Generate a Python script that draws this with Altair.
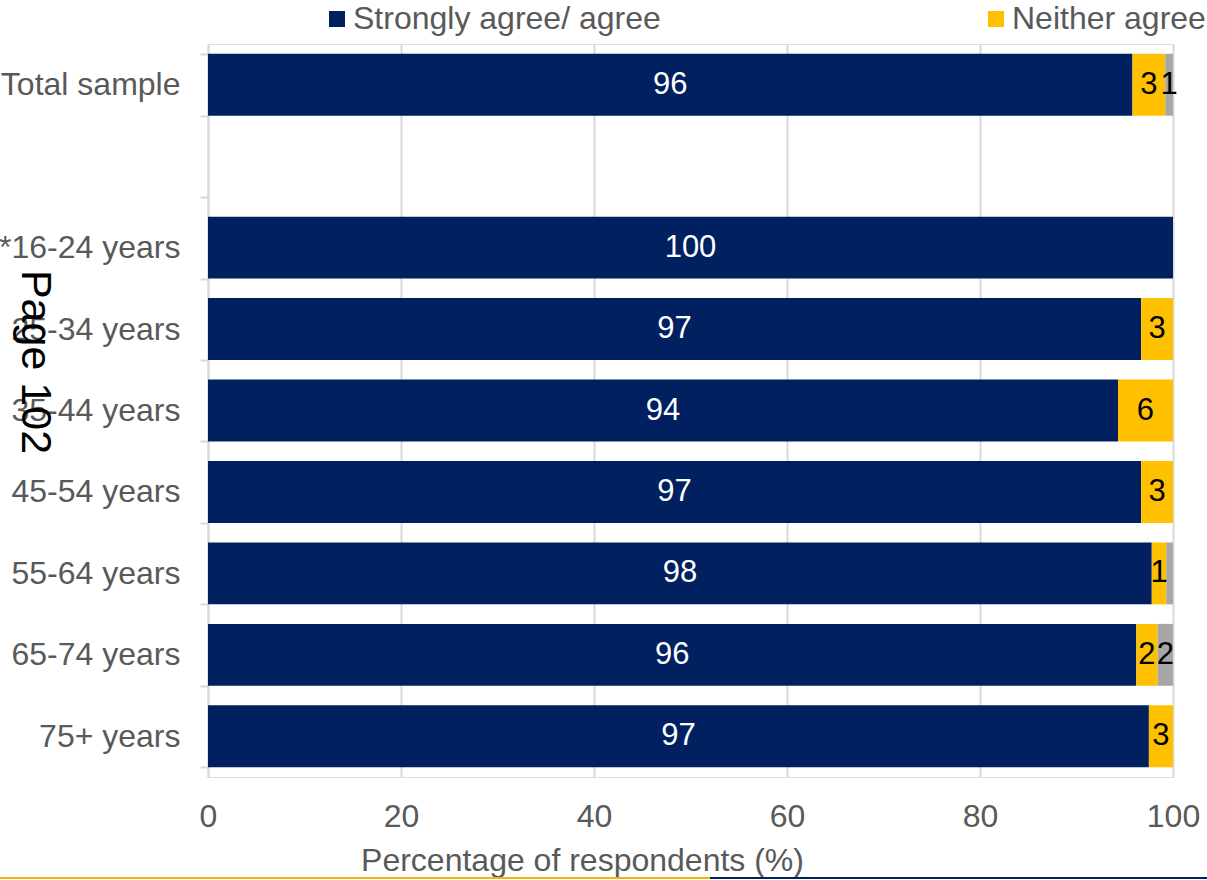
import altair as alt
import pandas as pd

categories = ["Total sample", " ", "*16-24 years", "25-34 years", "35-44 years",
              "45-54 years", "55-64 years", "65-74 years", "75+ years"]
series = ["Strongly agree/ agree", "Neither agree nor disagree", "Strongly disagree/ disagree"]
colors = ["#002060", "#FFC000", "#A6A6A6"]

# values per data category (blank row has no data)
rows = ["Total sample", "*16-24 years", "25-34 years", "35-44 years",
        "45-54 years", "55-64 years", "65-74 years", "75+ years"]
agree = [95.8, 100.0, 96.7, 94.3, 96.7, 97.8, 96.2, 97.5]
neither = [3.4, 0.0, 3.3, 5.7, 3.3, 1.5, 2.2, 2.5]
disagree = [0.8, 0.0, 0.0, 0.0, 0.0, 0.7, 1.6, 0.0]
agree_lbl = ["96", "100", "97", "94", "97", "98", "96", "97"]
neither_lbl = ["3", "", "3", "6", "3", "1", "2", "3"]
disagree_lbl = ["1", "", "", "", "", "", "2", ""]

recs = []
for i, r in enumerate(rows):
    start = 0.0
    for k, (vals, lbls) in enumerate([(agree, agree_lbl), (neither, neither_lbl), (disagree, disagree_lbl)]):
        v = vals[i]
        recs.append({"cat": r, "series": series[k], "order": k, "value": v,
                     "start": start, "end": start + v, "mid": start + v / 2,
                     "label": lbls[i], "txtcol": "white" if k == 0 else "black"})
        start += v
df = pd.DataFrame(recs)
df = df[df["value"] > 0]

FONT = "Liberation Sans"
FS = 32
W, H = 965, 733

y_enc = alt.Y("cat:N", scale=alt.Scale(domain=categories, paddingInner=0.24, paddingOuter=0.12),
              axis=alt.Axis(title=None, tickBand="extent", tickSize=8, tickColor="#D9D9D9",
                            domainColor="#D9D9D9", domainWidth=2, tickWidth=2,
                            labelFont=FONT, labelFontSize=FS, labelColor="#595959",
                            labelPadding=20, grid=False, labelLimit=300))

bars = alt.Chart(df).mark_bar().encode(
    x=alt.X("start:Q", scale=alt.Scale(domain=[0, 100], nice=False),
            axis=alt.Axis(title="Percentage of respondents (%)", values=[0, 20, 40, 60, 80, 100],
                          domain=False, ticks=False, grid=True, gridColor="#D9D9D9", gridWidth=2,
                          labelFlush=False,
                          labelFont=FONT, labelFontSize=FS, labelColor="#595959", labelPadding=24,
                          titleFont=FONT, titleFontSize=FS, titleColor="#595959",
                          titleFontWeight="normal", titlePadding=13,
                          titleX=582 - 208, titleAlign="center")),
    x2="end:Q",
    y=y_enc,
    color=alt.Color("series:N", scale=alt.Scale(domain=series, range=colors),
                    legend=alt.Legend(title=None, orient="none", legendX=113, legendY=-41,
                                      direction="horizontal", symbolType="square", symbolSize=256,
                                      symbolStrokeWidth=0, labelFont=FONT, labelFontSize=FS,
                                      labelColor="#595959", labelOffset=0, columnPadding=319,
                                      labelLimit=600)),
    order="order:Q",
)

labels = alt.Chart(df).mark_text(font=FONT, fontSize=31, baseline="middle", align="center").encode(
    x="mid:Q",
    y=alt.Y("cat:N", scale=alt.Scale(domain=categories)),
    text="label:N",
    color=alt.Color("txtcol:N", scale=None),
)

page = alt.Chart(pd.DataFrame({"t": ["Page 102"]})).mark_text(
    font=FONT, fontSize=43, angle=90, align="center", baseline="middle", color="black"
).encode(x=alt.value(35 - 208), y=alt.value(362 - 44), text="t:N")

line_y = 878 - 44
rule1 = alt.Chart(pd.DataFrame({"a": [0]})).mark_rule(color="#F2B705", strokeWidth=2).encode(
    x=alt.value(-208), x2=alt.value(710 - 208), y=alt.value(line_y))
rule2 = alt.Chart(pd.DataFrame({"a": [0]})).mark_rule(color="#002060", strokeWidth=2).encode(
    x=alt.value(710 - 208), x2=alt.value(1207 - 208), y=alt.value(line_y))

chart = alt.layer(bars, labels, page, rule1, rule2).properties(
    width=W, height=H,
    autosize=alt.AutoSizeParams(type="none"),
    padding={"left": 208, "top": 44, "right": 34, "bottom": 103},
).configure_view(stroke=None).configure(background="white")

chart.save("out.html", embed_options={"renderer": "svg", "actions": False})
